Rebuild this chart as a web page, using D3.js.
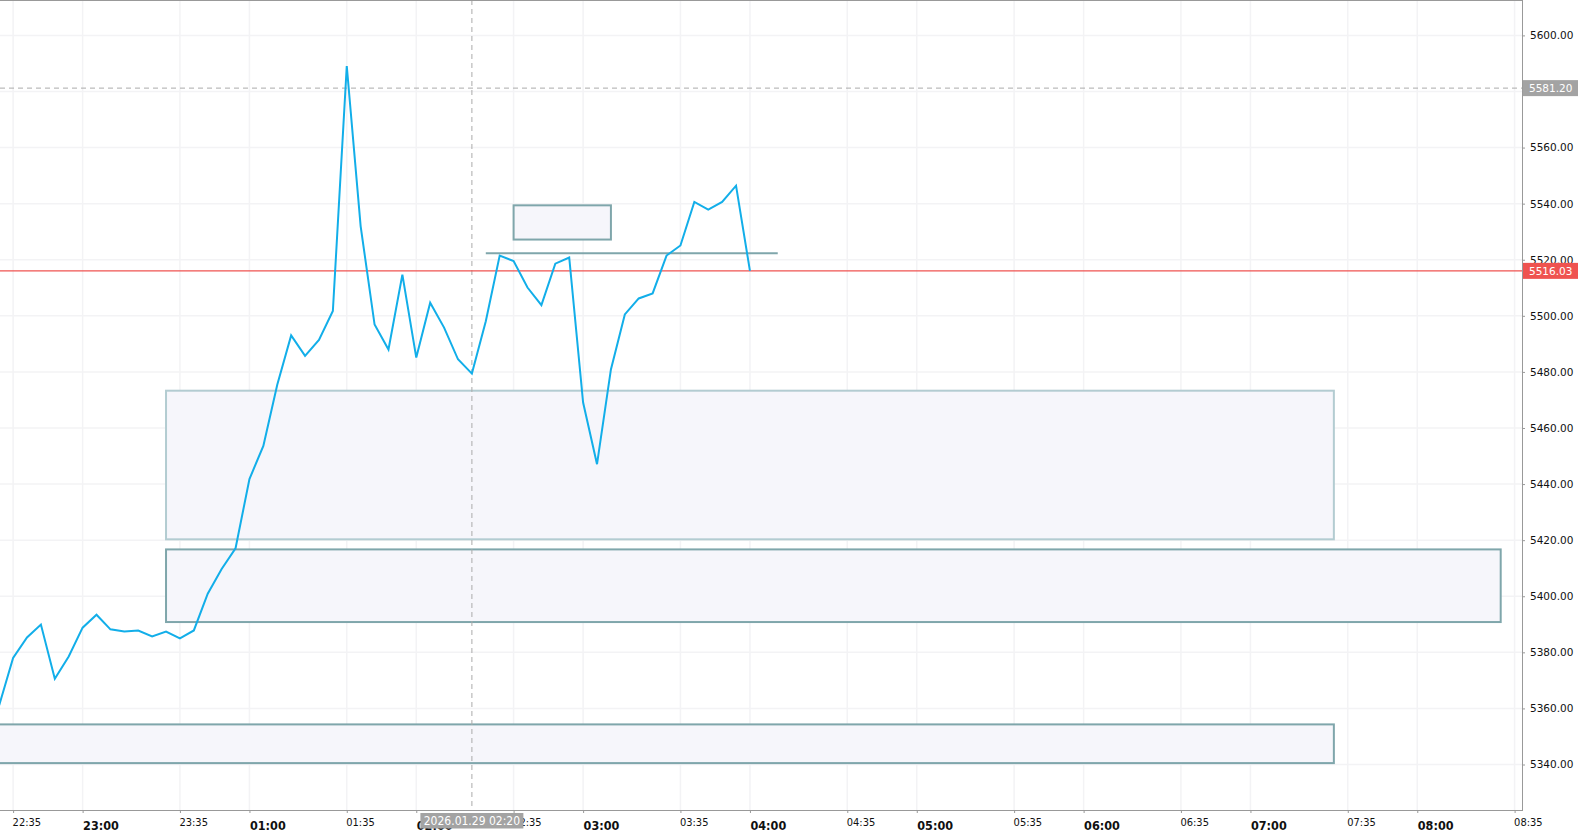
<!DOCTYPE html>
<html><head><meta charset="utf-8">
<script src="https://cdn.jsdelivr.net/npm/d3@7"></script>
<style>html,body{margin:0;padding:0;background:#fff;overflow:hidden}</style>
</head><body><svg id="c" width="1578" height="833"></svg>
<script>
// ---- data ----
const times = ["22:30","22:35","22:40","22:45","22:50","22:55","23:00","23:05","23:10","23:15","23:20","23:25","23:30","23:35","23:40","23:45","23:50","23:55",
 "01:00","01:05","01:10","01:15","01:20","01:25","01:30","01:35","01:40","01:45","01:50","01:55",
 "02:00","02:05","02:10","02:15","02:20","02:25","02:30","02:35","02:40","02:45","02:50","02:55",
 "03:00","03:05","03:10","03:15","03:20","03:25","03:30","03:35","03:40","03:45","03:50","03:55","04:00"];
const prices = [5361.1,5378.0,5385.3,5389.9,5370.6,5378.5,5388.8,5393.4,5388.2,5387.4,5387.8,5385.7,5387.4,5385.0,5387.8,5400.9,5409.7,5417.1,
 5441.8,5453.6,5475.4,5493.0,5485.7,5491.4,5501.7,5589.1,5531.9,5496.9,5488.0,5514.7,
 5485.1,5504.7,5495.8,5484.5,5479.4,5498.1,5521.5,5519.5,5510.1,5503.8,5518.6,5520.8,
 5469.1,5447.1,5480.9,5500.5,5506.2,5508.0,5521.5,5525.1,5540.6,5537.9,5540.6,5546.4,5516.03];
const xTickLabels = ["22:35","23:00","23:35","01:00","01:35","02:00","02:35","03:00","03:35","04:00","04:35","05:00","05:35","06:00","06:35","07:00","07:35","08:00","08:35"];
const yTickValues = [5340,5360,5380,5400,5420,5440,5460,5480,5500,5520,5540,5560,5580,5600];
const boxStart = ["02:35","23:30","23:30","22:00"];
const boxEnd   = ["03:10","07:30","08:30","07:30"];
const boxTop   = [5539.4,5473.3,5416.7,5354.3];
const boxBottom= [5527.2,5420.3,5390.8,5340.5];
const levelStart = ["02:25"], levelEnd = ["04:10"], levelPrice = [5522.3];
const lastPrice = 5516.03;
const maxPrice = 5581.20;
const crossTime = "02:20", crossLabel = "2026.01.29 02:20";

// ---- layout ----
const W = 1578, H = 833, plotR = 1522, plotB = 810;
const boxStroke = ["#7fa6ab","#b3ccd1","#7fa6ab","#7fa6ab"];

// slot index on a session axis (hour 00 is skipped)
const slotOf = t => { const [h,m] = t.split(":").map(Number); let mins = h*60+m; if (h < 22) mins += 24*60 - 60; return (mins - (22*60+35))/5; };

const x = d3.scaleLinear().domain([0,108]).range([13.1,1514.6]);
const y = d3.scaleLinear().domain([5600,5340]).range([35.4,764.5]);

const svg = d3.select("#c");
svg.append("rect").attr("width",W).attr("height",H).attr("fill","#fff");
svg.append("defs").append("clipPath").attr("id","pc").append("rect").attr("x",0).attr("y",0).attr("width",plotR).attr("height",plotB);
const g = svg.append("g").attr("clip-path","url(#pc)");

// grid
const xSlots = xTickLabels.map(slotOf);
g.selectAll(".vg").data(xSlots).join("line").attr("x1",d=>x(d)).attr("x2",d=>x(d)).attr("y1",0).attr("y2",plotB).attr("stroke","#f3f3f5").attr("stroke-width",1.5);
g.selectAll(".hg").data(yTickValues).join("line").attr("x1",0).attr("x2",plotR).attr("y1",d=>y(d)).attr("y2",d=>y(d)).attr("stroke","#f3f3f5").attr("stroke-width",1.5);

// boxes
boxStart.forEach((s,i)=>{
  g.append("rect").attr("x",x(slotOf(s))).attr("y",y(boxTop[i]))
   .attr("width",x(slotOf(boxEnd[i]))-x(slotOf(s))).attr("height",y(boxBottom[i])-y(boxTop[i]))
   .attr("fill","#f6f6fb").attr("stroke",boxStroke[i]).attr("stroke-width",2);
});
levelStart.forEach((s,i)=>{
  g.append("line").attr("x1",x(slotOf(s))).attr("x2",x(slotOf(levelEnd[i]))).attr("y1",y(levelPrice[i])).attr("y2",y(levelPrice[i]))
   .attr("stroke","#7fa6ab").attr("stroke-width",2);
});

// max price dashed line
g.append("line").attr("x1",0).attr("x2",plotR).attr("y1",y(maxPrice)).attr("y2",y(maxPrice)).attr("stroke","#aaaaaa").attr("stroke-dasharray","5,4");
// crosshair
g.append("line").attr("x1",x(slotOf(crossTime))).attr("x2",x(slotOf(crossTime))).attr("y1",0).attr("y2",plotB).attr("stroke","#aaaaaa").attr("stroke-dasharray","5,4");
// last price line
g.append("line").attr("x1",0).attr("x2",plotR).attr("y1",y(lastPrice)).attr("y2",y(lastPrice)).attr("stroke","#ef5350").attr("stroke-width",1.2);

// price line
const line = d3.line().x((d,i)=>x(slotOf(times[i]))).y(d=>y(d));
g.append("path").datum(prices).attr("d",line).attr("fill","none").attr("stroke","#12aee9").attr("stroke-width",2).attr("stroke-linejoin","miter");

// frame
svg.append("line").attr("x1",0).attr("x2",plotR).attr("y1",0.5).attr("y2",0.5).attr("stroke","#999");
svg.append("line").attr("x1",plotR+0.5).attr("x2",plotR+0.5).attr("y1",0).attr("y2",plotB).attr("stroke","#999");
svg.append("line").attr("x1",0).attr("x2",plotR+1).attr("y1",plotB+0.5).attr("y2",plotB+0.5).attr("stroke","#999");

// x axis
const xAxis = d3.axisBottom(x).tickValues(xSlots).tickFormat((d,i)=>xTickLabels[i]).tickSize(3).tickSizeOuter(0);
const xa = svg.append("g").attr("transform",`translate(0,${plotB})`).call(xAxis);
xa.select(".domain").remove();
xa.selectAll(".tick line").attr("stroke","#999");
xa.selectAll(".tick text").each(function(d,i){
  const major = xTickLabels[i].endsWith(":00");
  d3.select(this).attr("text-anchor","start").attr("x",major?0:-1).attr("dy",null)
    .attr("y",major?20:16)
    .attr("fill","#111")
    .style("font-family",'"DejaVu Sans Condensed","DejaVu Sans",sans-serif')
    .style("font-size",major?"12.5px":"11px")
    .style("font-weight",major?"bold":"normal");
});

// y axis
const yAxis = d3.axisRight(y).tickValues(yTickValues).tickFormat(d3.format(".2f")).tickSize(3).tickPadding(5).tickSizeOuter(0);
const ya = svg.append("g").attr("transform",`translate(${plotR},0)`).call(yAxis);
ya.select(".domain").remove();
ya.selectAll(".tick line").attr("stroke","#999");
ya.selectAll(".tick text").attr("fill","#111").style("font-family",'"DejaVu Sans",sans-serif').style("font-size","10.5px");

// price labels
function priceTag(v, bg){
  const gy = svg.append("g").attr("transform",`translate(${plotR+1},${y(v)})`);
  gy.append("rect").attr("x",0).attr("y",-8).attr("width",W-plotR-1).attr("height",16).attr("fill",bg);
  gy.append("text").attr("x",6).attr("y",0).attr("dy","0.36em").attr("fill","#fff")
    .style("font-family",'"DejaVu Sans",sans-serif').style("font-size","10.5px").text(d3.format(".2f")(v));
}
priceTag(maxPrice,"#a3a3a3");
priceTag(lastPrice,"#ef5350");

// crosshair time label
const cx = x(slotOf(crossTime));
const cl = svg.append("g").attr("transform",`translate(${cx},${plotB+3})`);
cl.append("rect").attr("x",-51.5).attr("y",0).attr("width",103).attr("height",15.5).attr("fill","#a3a3a3");
cl.append("text").attr("x",0).attr("y",8).attr("dy","0.36em").attr("text-anchor","middle").attr("fill","#fff")
  .style("font-family",'"DejaVu Sans Condensed","DejaVu Sans",sans-serif').style("font-size","12px").text(crossLabel);
</script></body></html>
